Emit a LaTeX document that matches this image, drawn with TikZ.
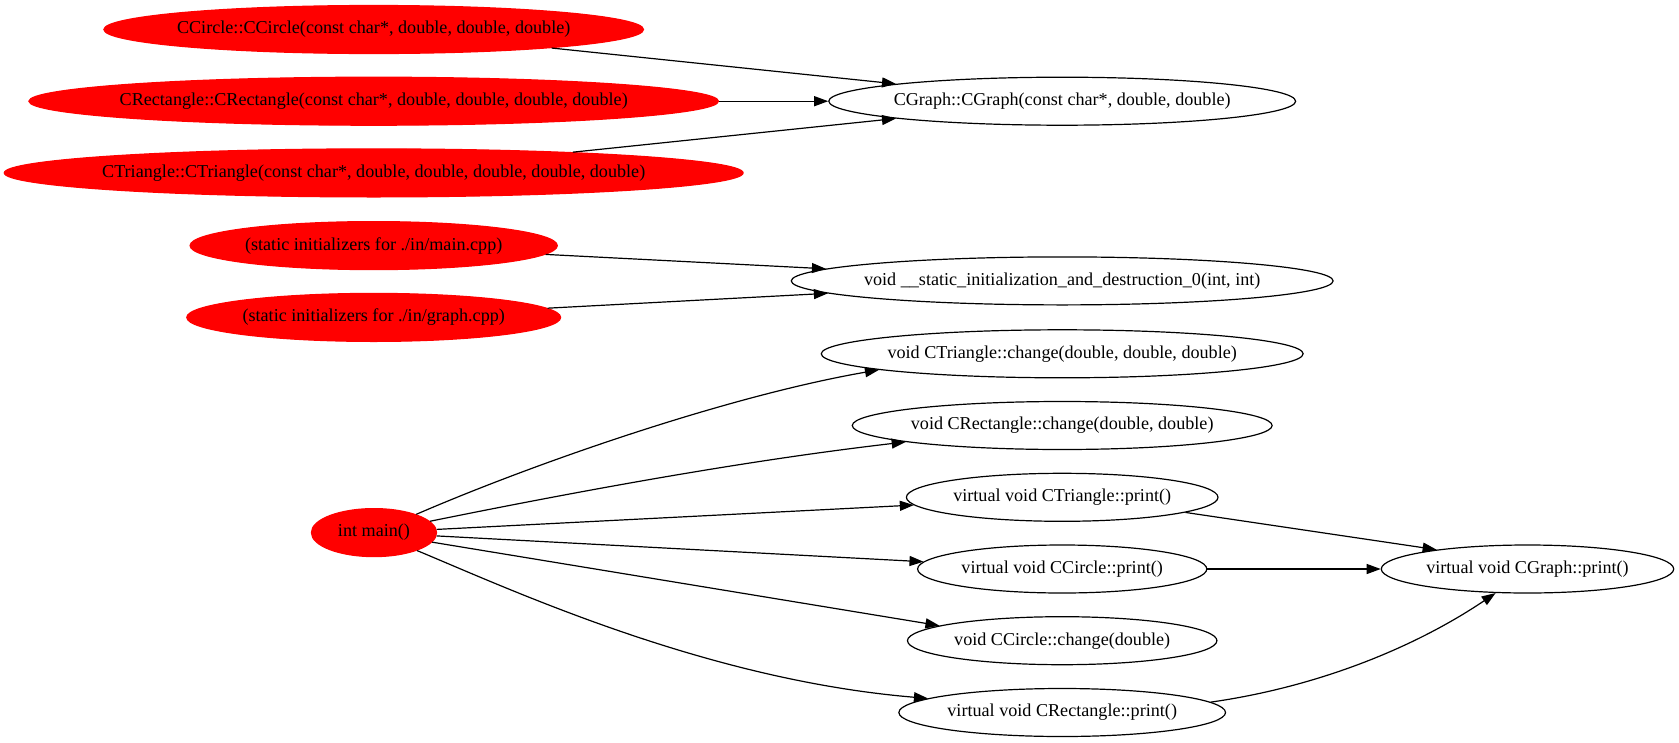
\documentclass[tikz,border=0pt]{standalone}
\usepackage{fontspec}
\setmainfont{Liberation Serif}
\usetikzlibrary{shapes.geometric,arrows.meta}
\tikzset{
  gnode/.style={ellipse, draw=black, line width=0.9pt, minimum height=36pt, inner sep=0pt,
    font=\fontsize{13.6}{16}\selectfont},
  rnode/.style={gnode, fill=red, draw=red},
  edge/.style={draw=black, line width=0.9pt, -{Triangle[length=10.5pt,width=7.5pt]}}
}
\newcommand{\lbl}[1]{\makebox[0pt]{#1}}
\begin{document}
\begin{tikzpicture}[x=0.75pt,y=-0.75pt]
\useasboundingbox (0,0) rectangle (1679,743);
% left column
\node[rnode, minimum width=404.7pt] (A) at (373.7,29.5) {\lbl{CCircle::CCircle(const char*, double, double, double)}};
\node[rnode, minimum width=517.2pt] (B) at (373.7,101.2) {\lbl{CRectangle::CRectangle(const char*, double, double, double, double)}};
\node[rnode, minimum width=554.1pt] (C) at (373.7,172.9) {\lbl{CTriangle::CTriangle(const char*, double, double, double, double, double)}};
\node[rnode, minimum width=275.4pt] (D) at (373.7,245.6) {\lbl{(static initializers for ./in/main.cpp)}};
\node[rnode, minimum width=280.4pt] (E) at (373.7,317.4) {\lbl{(static initializers for ./in/graph.cpp)}};
\node[rnode, minimum width=93.9pt] (N) at (374,532.6) {\lbl{int main()}};
% middle column
\node[gnode, minimum width=350.1pt] (F) at (1062.2,101.2) {\lbl{CGraph::CGraph(const char*, double, double)}};
\node[gnode, minimum width=406.4pt] (G) at (1062.2,280.9) {\lbl{void \_\_static\_initialization\_and\_destruction\_0(int, int)}};
\node[gnode, minimum width=361.4pt] (H) at (1062.2,353.8) {\lbl{void CTriangle::change(double, double, double)}};
\node[gnode, minimum width=314.9pt] (I) at (1062.2,425.5) {\lbl{void CRectangle::change(double, double)}};
\node[gnode, minimum width=233.7pt] (J) at (1062.2,497.3) {\lbl{virtual void CTriangle::print()}};
\node[gnode, minimum width=216.9pt] (K) at (1062.2,569.0) {\lbl{virtual void CCircle::print()}};
\node[gnode, minimum width=232.1pt] (L) at (1062.2,640.7) {\lbl{void CCircle::change(double)}};
\node[gnode, minimum width=245.0pt] (M) at (1062.2,712.5) {\lbl{virtual void CRectangle::print()}};
% right
\node[gnode, minimum width=219.3pt] (O) at (1527.5,569.0) {\lbl{virtual void CGraph::print()}};
% edges
\draw[edge] (A) -- (F);
\draw[edge] (B) -- (F);
\draw[edge] (C) -- (F);
\draw[edge] (D) -- (G);
\draw[edge] (E) -- (G);
\draw[edge] (N) .. controls (535,463) and (728,396) .. (H.185);
\draw[edge] (N) .. controls (589,489) and (750,460) .. (I.186);
\draw[edge] (N) -- (J.183);
\draw[edge] (N) -- (K.177);
\draw[edge] (N) -- (L.173);
\draw[edge] (N) .. controls (514,591) and (707,680) .. (M.174);
\draw[edge] (J.353) -- (O.168);
\draw[edge] (K) -- (O);
\draw[edge] (M.4) .. controls (1317,687) and (1414,648) .. (O.217);
\end{tikzpicture}
\end{document}
